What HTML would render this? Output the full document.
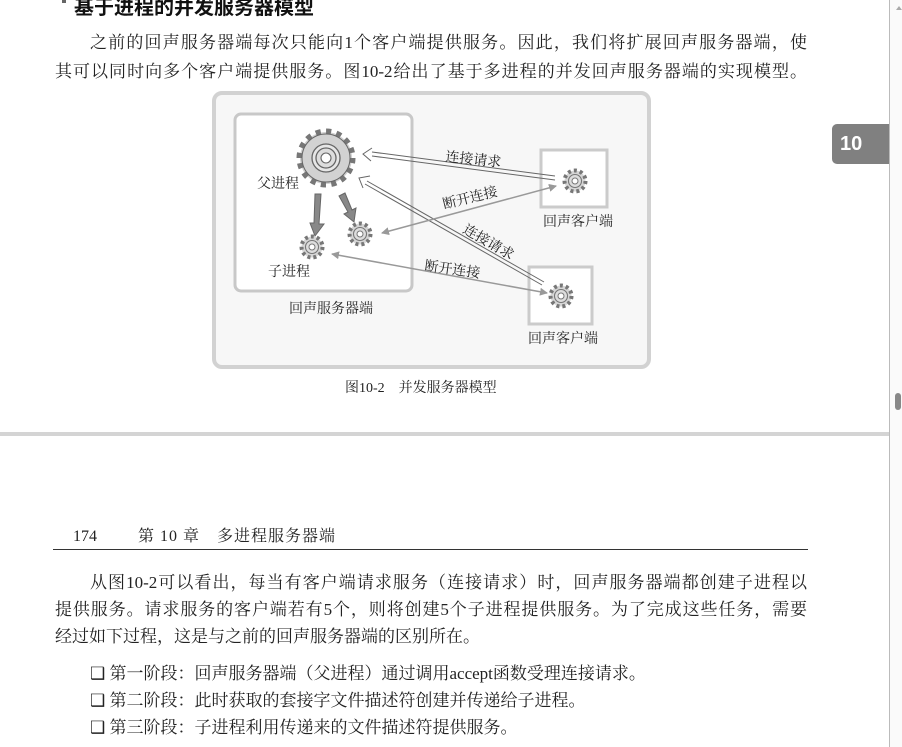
<!DOCTYPE html>
<html><head><meta charset="utf-8">
<style>
html,body{margin:0;padding:0;background:#fff;}
body{width:902px;height:747px;position:relative;overflow:hidden;font-family:"Liberation Serif","Noto Serif CJK SC","Noto Sans CJK SC",serif;color:#222;}
.l{position:absolute;font-size:17px;line-height:20px;white-space:nowrap;}
.j{text-align:justify;text-align-last:justify;white-space:normal;}
</style></head><body>
<div style="position:absolute;left:62px;top:0;width:4px;height:3px;background:#666"></div>
<div class="l" style="left:74px;top:-2px;font-size:20px;font-weight:bold;font-family:'Liberation Sans','Noto Sans CJK SC',sans-serif;color:#111">基于进程的并发服务器模型</div>
<div class="l j" style="left:90px;top:33px;width:717px">之前的回声服务器端每次只能向1个客户端提供服务。因此，我们将扩展回声服务器端，使</div>
<div class="l j" style="left:55px;top:62px;width:752px">其可以同时向多个客户端提供服务。图10-2给出了基于多进程的并发回声服务器端的实现模型。</div>

<svg style="position:absolute;left:0;top:0" width="902" height="747">
<defs>
<marker id="ga" markerWidth="8" markerHeight="8" refX="7" refY="4" orient="auto" markerUnits="userSpaceOnUse"><path d="M0,0 L8,4 L0,8 z" fill="#999"/></marker>
<marker id="gb" markerWidth="8" markerHeight="8" refX="1" refY="4" orient="auto" markerUnits="userSpaceOnUse"><path d="M8,0 L0,4 L8,8 z" fill="#999"/></marker>
</defs>
<rect x="214" y="93" width="435" height="274" rx="8" fill="#f7f7f7" stroke="#d2d2d2" stroke-width="4"/>
<rect x="235" y="114" width="177" height="177" rx="6" fill="#fff" stroke="#c8c8c8" stroke-width="3"/>
<rect x="541" y="150" width="66" height="57" fill="#fff" stroke="#cbcbcb" stroke-width="3"/>
<rect x="529" y="267" width="63" height="57" fill="#fff" stroke="#cbcbcb" stroke-width="3"/>
<g>
<circle cx="326" cy="158" r="26" fill="#d0d0d0" stroke="#777" stroke-width="7" stroke-dasharray="5 5.2"/>
<circle cx="326" cy="158" r="24" fill="#d2d2d2" stroke="#666" stroke-width="1"/>
<circle cx="326" cy="158" r="14" fill="#e6e6e6" stroke="#666" stroke-width="1.3"/>
<circle cx="326" cy="158" r="10" fill="#ddd" stroke="#666" stroke-width="1.3"/>
<circle cx="326" cy="158" r="5" fill="#fff" stroke="#666" stroke-width="1.1"/>
</g>
<g fill="#d6d6d6" stroke="#777">
<circle cx="312" cy="247" r="10.5" stroke-width="4" stroke-dasharray="3 3"/>
<circle cx="312" cy="247" r="6.5" fill="#ddd" stroke-width="1.1"/><circle cx="312" cy="247" r="3" fill="#fff" stroke-width="1"/>
<circle cx="360" cy="234" r="10.5" stroke-width="4" stroke-dasharray="3 3"/>
<circle cx="360" cy="234" r="6.5" fill="#ddd" stroke-width="1.1"/><circle cx="360" cy="234" r="3" fill="#fff" stroke-width="1"/>
<circle cx="575" cy="181" r="10.5" stroke-width="4" stroke-dasharray="3 3"/>
<circle cx="575" cy="181" r="6.5" fill="#ddd" stroke-width="1.1"/><circle cx="575" cy="181" r="3" fill="#fff" stroke-width="1"/>
<circle cx="561" cy="296" r="10.5" stroke-width="4" stroke-dasharray="3 3"/>
<circle cx="561" cy="296" r="6.5" fill="#ddd" stroke-width="1.1"/><circle cx="561" cy="296" r="3" fill="#fff" stroke-width="1"/>
</g>
<path d="M315,194 L321,194 L319,224 L324,224 L315,236 L310,223 L314,223 z" fill="#888" stroke="#666" stroke-width="1"/>
<path d="M339,196 L345,193 L352,210 L356,208 L354,222 L344,214 L348,212 z" fill="#888" stroke="#666" stroke-width="1"/>
<g fill="none" stroke="#666" stroke-width="1">
<path d="M555,176 L372,152 M555,180 L372,156"/>
<path d="M372,148 L363,154 L371,161"/>
<path d="M544,282 L367,181 M542,285 L365,184"/>
<path d="M370,176 L359,178 L363,188"/>
</g>
<line x1="382" y1="233" x2="556" y2="186" stroke="#999" stroke-width="1.5" marker-start="url(#gb)" marker-end="url(#ga)"/>
<line x1="332" y1="254" x2="547" y2="293" stroke="#999" stroke-width="1.5" marker-start="url(#gb)" marker-end="url(#ga)"/>
<g font-size="14" fill="#222" font-family="Liberation Serif,Noto Serif CJK SC,serif">
<text x="445" y="161" transform="rotate(6 445 161)">连接请求</text>
<text x="444" y="209" transform="rotate(-14 444 209)">断开连接</text>
<text x="462" y="232" transform="rotate(30 462 232)">连接请求</text>
<text x="424" y="270" transform="rotate(8 424 270)">断开连接</text>
<text x="257" y="188">父进程</text>
<text x="268" y="276">子进程</text>
<text x="289" y="313">回声服务器端</text>
<text x="543" y="226">回声客户端</text>
<text x="528" y="343">回声客户端</text>
<text x="345" y="392" font-size="14">图10-2　并发服务器模型</text>
</g>
</svg>

<div style="position:absolute;left:832px;top:124px;width:58px;height:40px;background:#808080;border-radius:5px 0 0 5px"></div>
<div style="position:absolute;left:840px;top:133px;font:bold 20px 'Liberation Sans',sans-serif;color:#fff">10</div>
<div style="position:absolute;left:889px;top:0;width:1px;height:747px;background:#bbb"></div>
<div style="position:absolute;left:890px;top:0;width:12px;height:747px;background:#fafafa"></div>
<div style="position:absolute;left:895px;top:393px;width:6px;height:17px;background:#888;border-radius:3px"></div>
<div style="position:absolute;left:896px;top:6px;width:0;height:0;border-left:3px solid transparent;border-right:3px solid transparent;border-bottom:4px solid #aaa"></div>
<div style="position:absolute;left:0;top:432px;width:889px;height:4px;background:#d4d4d4"></div>

<div class="l" style="left:73px;top:527px;font-size:16px">174</div>
<div class="l" style="left:138px;top:527px;font-size:16px;letter-spacing:1px">第 10 章　多进程服务器端</div>
<div style="position:absolute;left:53px;top:549px;width:755px;height:1px;background:#333"></div>

<div class="l j" style="left:90px;top:573px;width:717px">从图10-2可以看出，每当有客户端请求服务（连接请求）时，回声服务器端都创建子进程以</div>
<div class="l j" style="left:55px;top:600px;width:752px">提供服务。请求服务的客户端若有5个，则将创建5个子进程提供服务。为了完成这些任务，需要</div>
<div class="l" style="left:55px;top:627px">经过如下过程，这是与之前的回声服务器端的区别所在。</div>
<div class="l" style="left:90px;top:664px">❑ 第一阶段：回声服务器端（父进程）通过调用accept函数受理连接请求。</div>
<div class="l" style="left:90px;top:691px">❑ 第二阶段：此时获取的套接字文件描述符创建并传递给子进程。</div>
<div class="l" style="left:90px;top:718px">❑ 第三阶段：子进程利用传递来的文件描述符提供服务。</div>
</body></html>
